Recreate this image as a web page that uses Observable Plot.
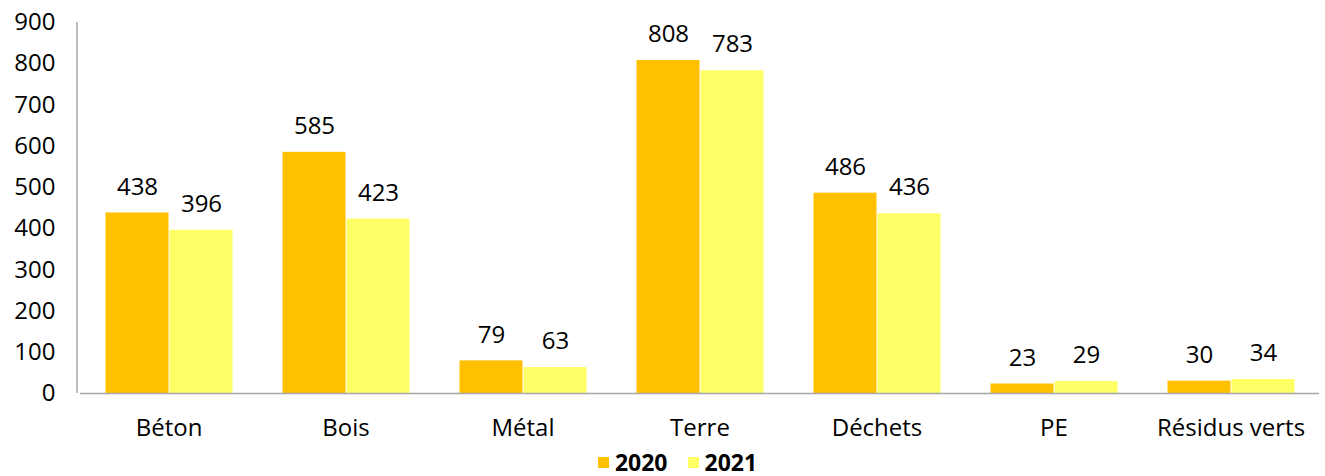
<!DOCTYPE html>
<html>
<head>
<meta charset="utf-8">
<script src="https://cdn.jsdelivr.net/npm/d3@7"></script>
<script src="https://cdn.jsdelivr.net/npm/@observablehq/plot@0.6"></script>
<style>
  html, body { margin: 0; padding: 0; background: #fff; overflow: hidden; }
  #chart svg { display: block; }
  #legend { display: flex; justify-content: center; align-items: center; height: 27px; margin-top: 4px;
    font-family: "Open Sans", sans-serif; font-weight: bold; font-size: 23px; line-height: 1; color: #000; padding-left: 30px; }
  .item { display: flex; align-items: center; margin: 0 10px; }
  .sw { width: 11px; height: 11px; margin-right: 6px; }
</style>
</head>
<body>
<div id="chart"></div>
<div id="legend"></div>
<script>
const categories = ["Béton", "Bois", "Métal", "Terre", "Déchets", "PE", "Résidus verts"];
const values2020 = [438, 585, 79, 808, 486, 23, 30];
const values2021 = [396, 423, 63, 783, 436, 29, 34];
const years = ["2020", "2021"];
const colors = ["#FFC000", "#FFFF66"];
const yTicks = [0, 100, 200, 300, 400, 500, 600, 700, 800, 900];

const data = categories.flatMap((c, i) => [
  {cat: c, year: years[0], v: values2020[i]},
  {cat: c, year: years[1], v: values2021[i]}
]);

const chart = Plot.plot({
  width: 1325,
  height: 445,
  marginTop: 22,
  marginBottom: 52,
  marginLeft: 77,
  marginRight: 4,
  style: {fontFamily: "'Open Sans', sans-serif", fontSize: "24px", color: "#000", background: "#fff"},
  fx: {domain: categories, padding: 0, label: null},
  x: {domain: years, axis: null, paddingInner: 0, paddingOuter: 0.37},
  y: {domain: [0, 900], label: null},
  color: {domain: years, range: colors},
  marks: [
    Plot.barY(data, {fx: "cat", x: "year", y: "v", fill: "year", insetLeft: 0.5, insetRight: 0.5}),
    Plot.text(data, {fx: "cat", x: "year", y: "v", text: d => String(d.v), dy: -26, fontSize: 24, fill: "#000"}),
    Plot.ruleY([0], {stroke: "#A6A6A6", strokeWidth: 1.5}),
    Plot.axisY({ticks: yTicks, tickSize: 0, tickPadding: 25, label: null, fontSize: 24}),
    Plot.axisFx({anchor: "bottom", tickSize: 0, tickPadding: 25, label: null, fontSize: 24})
  ]
});

// left axis line, positioned from the chart's own scales
const fxs = chart.scale("fx"), ys = chart.scale("y");
d3.select(chart).append("line")
  .attr("x1", fxs.range[0]).attr("x2", fxs.range[0])
  .attr("y1", ys.apply(0)).attr("y2", ys.apply(900))
  .attr("stroke", "#A6A6A6").attr("stroke-width", 1.5);

document.getElementById("chart").appendChild(chart);

const legend = document.getElementById("legend");
years.forEach((y, i) => {
  const item = document.createElement("div");
  item.className = "item";
  const sw = document.createElement("span");
  sw.className = "sw";
  sw.style.background = colors[i];
  const t = document.createElement("span");
  t.textContent = y;
  item.appendChild(sw);
  item.appendChild(t);
  legend.appendChild(item);
});
</script>
</body>
</html>
